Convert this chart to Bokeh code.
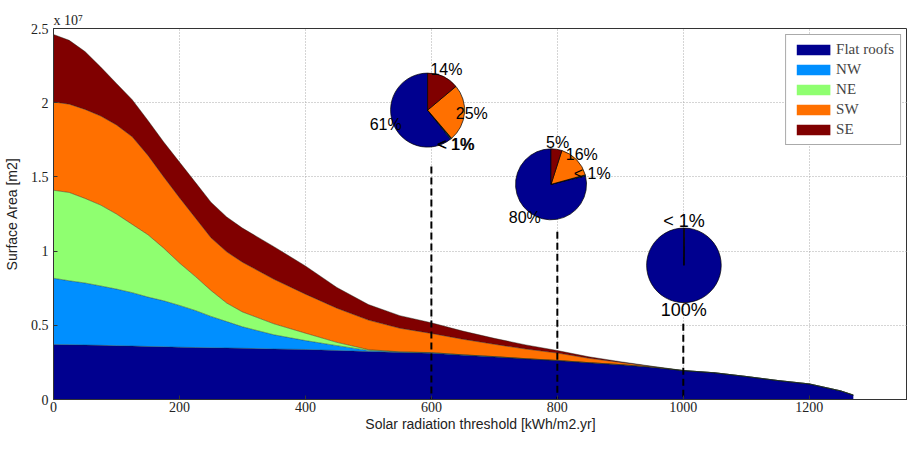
import numpy as np
from bokeh.plotting import figure
from bokeh.models import ColumnDataSource, NumeralTickFormatter, FixedTicker, Legend
from bokeh.core.properties import value
from bokeh.embed import file_html
from bokeh.resources import INLINE

# ---------------- data (surface area in units of 1e7 m2) ----------------
threshold = [0, 25, 50, 75, 100, 125, 150, 175, 200, 225, 250, 275, 300,
             350, 400, 450, 500, 550, 600, 650, 700, 750, 800, 850, 900, 950,
             1000, 1050, 1100, 1150, 1200, 1250, 1270]
flat_roofs = [0.370, 0.369, 0.367, 0.365, 0.362, 0.360, 0.357, 0.355, 0.352, 0.350, 0.348, 0.347, 0.345,
              0.340, 0.337, 0.330, 0.323, 0.316, 0.312, 0.299, 0.287, 0.274, 0.262, 0.248, 0.235, 0.218,
              0.195, 0.180, 0.155, 0.128, 0.105, 0.058, 0.030]
nw = [0.447, 0.431, 0.418, 0.400, 0.382, 0.360, 0.333, 0.310, 0.282, 0.250, 0.212, 0.178, 0.145,
      0.096, 0.060, 0.033, 0.008, 0.004, 0.003, 0.002, 0.002, 0.001, 0.001, 0, 0, 0,
      0, 0, 0, 0, 0, 0, 0]
ne = [0.593, 0.595, 0.570, 0.545, 0.506, 0.460, 0.420, 0.355, 0.286, 0.230, 0.175, 0.125, 0.100,
      0.074, 0.050, 0.022, 0.005, 0.001, 0.001, 0, 0, 0, 0, 0, 0, 0,
      0, 0, 0, 0, 0, 0, 0]
sw = [0.595, 0.595, 0.600, 0.600, 0.600, 0.590, 0.535, 0.480, 0.440, 0.395, 0.355, 0.345, 0.335,
      0.300, 0.263, 0.230, 0.199, 0.159, 0.129, 0.105, 0.083, 0.065, 0.050, 0.030, 0.015, 0.005,
      0, 0, 0, 0, 0, 0, 0]
se = [0.455, 0.430, 0.390, 0.330, 0.280, 0.250, 0.235, 0.235, 0.240, 0.240, 0.240, 0.235, 0.230,
      0.220, 0.190, 0.140, 0.105, 0.085, 0.072, 0.055, 0.040, 0.028, 0.017, 0.010, 0.005, 0.001,
      0, 0, 0, 0, 0, 0, 0]

series_names = ["Flat roofs", "NW", "NE", "SW", "SE"]
series_colors = ["#00008F", "#008FFF", "#8FFF70", "#FF7000", "#800000"]

# pie charts: shares (%) of flat, NW, NE, SW, SE at given thresholds
pie_thresholds = [600, 800, 1000]
pie_shares = [
    [61, 0.4, 0.2, 25, 14],
    [80, 0.4, 0, 16, 5],
    [100, 0, 0, 0.1, 0],
]

x_ticks = [0, 200, 400, 600, 800, 1000, 1200]
y_ticks = [0, 0.5, 1, 1.5, 2, 2.5]

# ---------------- layout positions ----------------
pie_cx = [594, 790, 1001]
pie_cy = [1.95, 1.45, 0.904]
pie_r = [37, 35.5, 37.3]
pie_font = ["16px", "16px", "18px"]
dash_top = [1.57, 1.13, 0.51]

p = figure(width=907, height=434, output_backend="svg", toolbar_location=None,
           x_range=(0, 1356), y_range=(0, 2.5),
           min_border_left=53, min_border_right=0, min_border_top=28, min_border_bottom=34)
p.background_fill_color = "white"
p.border_fill_color = "white"
p.outline_line_color = "#333333"
p.outline_line_width = 1

p.title.text = "x 10\u2077"
p.title.text_font = "Liberation Serif"
p.title.text_font_size = "14px"
p.title.text_font_style = "normal"
p.title.text_color = "#222222"
p.title.align = "left"
p.title.standoff = 2
p.title.offset = 0

src = ColumnDataSource(dict(x=threshold, flat=flat_roofs, nw=nw, ne=ne, sw=sw, se=se))
stack_keys = ["flat", "nw", "ne", "sw", "se"]
renderers = p.varea_stack(stackers=stack_keys, x="x", color=series_colors, source=src)

# boundary lines
cum = np.cumsum(np.array([flat_roofs, nw, ne, sw, se]), axis=0)
for row in cum:
    p.line(threshold, row, line_color="#1a2a1a", line_width=0.6, line_alpha=0.7)

# dashed lines
p.segment(x0=pie_thresholds, y0=dash_top, x1=pie_thresholds, y1=[0, 0, 0],
          line_color="black", line_width=2, line_dash="7 4")

# pies
for cx, cy, r, shares, fs in zip(pie_cx, pie_cy, pie_r, pie_shares, pie_font):
    s = np.array(shares, dtype=float)
    frac = s / s.sum()
    starts = np.pi / 2 + 2 * np.pi * np.concatenate([[0], np.cumsum(frac)[:-1]])
    ends = starts + 2 * np.pi * frac
    keep = frac > 0
    p.wedge(x=[cx] * int(keep.sum()), y=[cy] * int(keep.sum()), radius=r, radius_units="screen",
            start_angle=list(starts[keep]), end_angle=list(ends[keep]), direction="anticlock",
            fill_color=[c for c, k in zip(series_colors, keep) if k],
            line_color="black", line_width=0.7)
    mids = (starts + ends) / 2
    lx, ly, lt = [], [], []
    for sh, m, k in zip(shares, mids, keep):
        if not k:
            continue
        lx.append(1.2 * r * np.cos(m))
        ly.append(-1.2 * r * np.sin(m))
        lt.append("< 1%" if sh < 1 else f"{sh:g}%")
    p.text(x=[cx] * len(lt), y=[cy] * len(lt), text=lt, x_offset=lx, y_offset=ly,
           text_align="center", text_baseline="middle", text_font=value("Liberation Sans"),
           text_font_size=fs, text_color="black")

# axes
p.xaxis.ticker = FixedTicker(ticks=x_ticks)
p.yaxis.ticker = FixedTicker(ticks=y_ticks)
p.yaxis.formatter = NumeralTickFormatter(format="0.[0]")
for ax in [p.xaxis[0], p.yaxis[0]]:
    ax.major_label_text_font = "Liberation Serif"
    ax.major_label_text_font_size = "14px"
    ax.major_label_text_color = "#222222"
    ax.axis_label_text_font = "Liberation Sans"
    ax.axis_label_text_font_size = "14px"
    ax.axis_label_text_font_style = "normal"
    ax.axis_label_text_color = "#222222"
    ax.major_tick_in = 4
    ax.major_tick_out = 0
    ax.minor_tick_line_color = None
    ax.axis_line_color = "#333333"
    ax.major_tick_line_color = "#333333"
p.xaxis.axis_label = "Solar radiation threshold [kWh/m2.yr]"
p.yaxis.axis_label = "Surface Area [m2]"
p.xaxis.major_label_standoff = 2
p.yaxis.major_label_standoff = 5
p.xaxis.axis_label_standoff = 1
p.yaxis.axis_label_standoff = 8

p.xgrid.ticker = FixedTicker(ticks=x_ticks)
p.ygrid.ticker = FixedTicker(ticks=y_ticks)
for g in [p.xgrid[0], p.ygrid[0]]:
    g.grid_line_color = "#aaaaaa"
    g.grid_line_dash = "1 2"
    g.grid_line_width = 1

# legend
legend = Legend(items=[(n, [r]) for n, r in zip(series_names, renderers)],
                location="top_right", orientation="vertical")
legend.label_text_font = "Liberation Serif"
legend.label_text_font_size = "15px"
legend.glyph_width = 42
legend.glyph_height = 13
legend.label_height = 16
legend.spacing = 3
legend.padding = 6
legend.margin = 6
legend.label_standoff = 2
legend.border_line_color = "#555555"
legend.border_line_width = 1
legend.background_fill_color = "white"
legend.background_fill_alpha = 1
p.add_layout(legend)

open("out.html", "w").write(file_html(p, INLINE))
